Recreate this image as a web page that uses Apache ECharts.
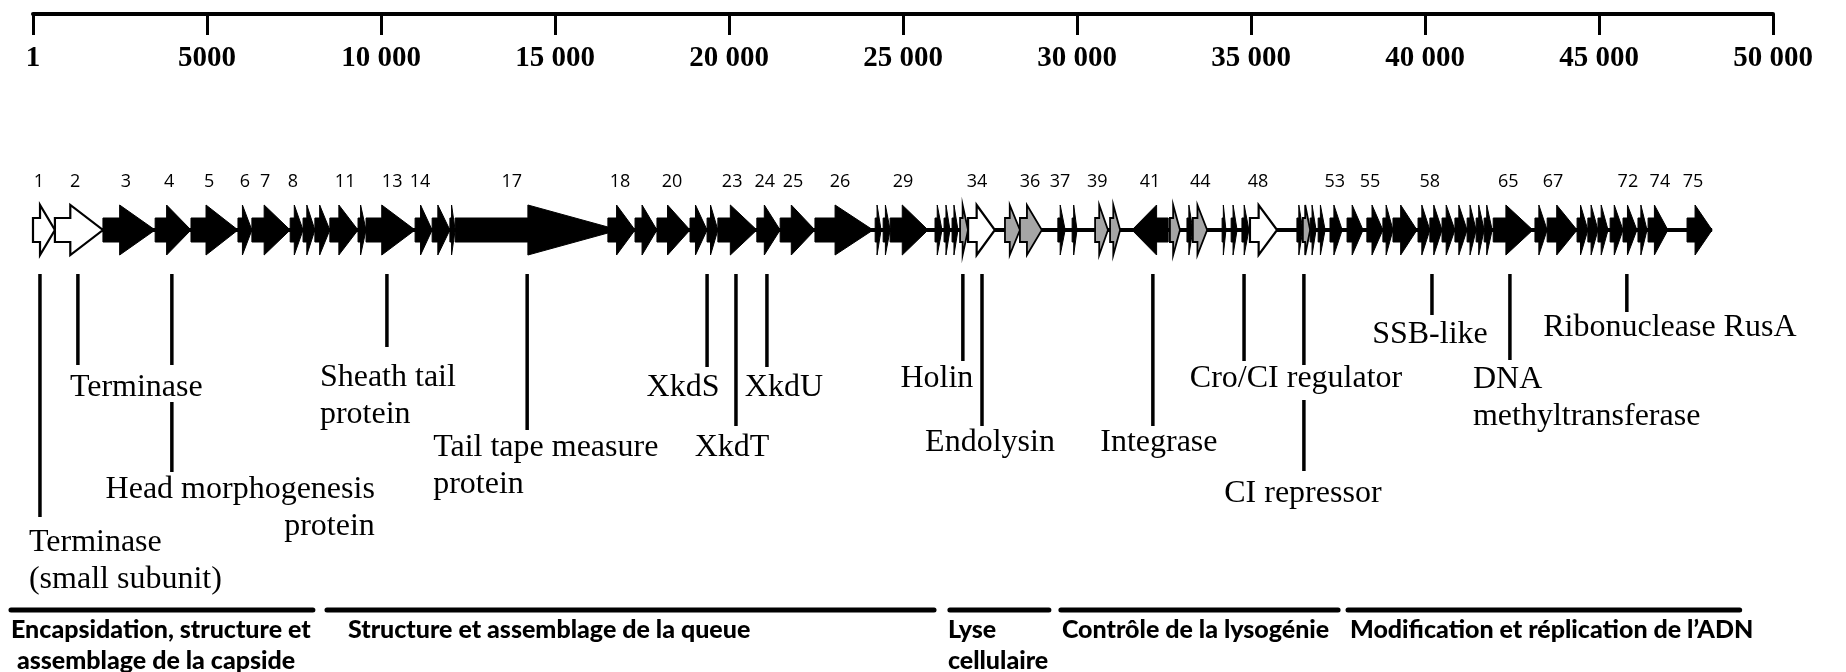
<!DOCTYPE html>
<html>
<head>
<meta charset="utf-8">
<script src="https://cdn.jsdelivr.net/npm/echarts@6/dist/echarts.min.js"></script>
<style>
html,body{margin:0;padding:0;background:#fff;}
#chart{width:1846px;height:672px;}
</style>
</head>
<body>
<div id="chart"></div>
<script>
// ---------------- DATA ----------------
const rulerLabels = ['1','5000','10 000','15 000','20 000','25 000','30 000','35 000','40 000','45 000','50 000'];

const genomeSpan = [0, 48250];

const geneStart = [0,630,2010,3510,4540,5890,6290,7390,7760,8100,
  8530,9340,9570,10980,11470,11980,12130,16520,17300,17930,
  18880,19370,19680,20800,21470,22470,24200,24430,24630,25920,
  26180,26410,26640,26870,27930,28360,29450,29860,30520,30950,
  31580,32670,33160,33330,34170,34430,34740,34970,36320,36490,
  36700,36930,37270,37760,38330,38790,39080,39800,40140,40490,
  40860,41210,41470,41700,41960,43160,43510,44370,44680,44970,
  45320,45690,46120,46410,47530];
const geneEnd = [630,2010,3510,4540,5890,6290,7390,7760,8100,8530,
  9340,9570,10980,11470,11980,12130,16520,17300,17930,18880,
  19370,19680,20800,21470,22470,24140,24370,24630,25720,26120,
  26350,26580,26870,27640,28360,28990,29660,30000,30890,31240,
  32620,32960,33330,33740,34280,34600,34940,35750,36490,36700,
  36870,37130,37620,38220,38790,39080,39770,40140,40490,40860,
  41210,41470,41700,41930,43100,43510,44370,44680,44970,45260,
  45690,46090,46380,46980,48250];
const reverseGenes = [41];
const openGenes = [1, 2, 34, 48];
const shadedGenes = [33, 35, 36, 39, 40, 42, 44, 50];

const geneLabelText = ['1','2','3','4','5','6','7','8','11','13','14','17','18','20','23','24','25','26','29',
  '34','36','37','39','41','44','48','53','55','58','65','67','72','74','75'];
const geneLabelPos = [170,1210,2670,3910,5060,6090,6670,7470,8970,10320,11120,13760,16870,18360,20090,21030,21840,23190,25000,
  27130,28650,29510,30580,32100,33540,35200,37410,38420,40140,42390,43680,45830,46750,47700];

const annotText = ['Terminase\n(small subunit)','Terminase','Head morphogenesis\nprotein','Sheath tail\nprotein',
  'Tail tape measure\nprotein','XkdS','XkdT','XkdU','Holin','Endolysin','Integrase','Cro/CI regulator',
  'CI repressor','SSB-like','DNA\nmethyltransferase','Ribonuclease RusA'];
const annotPos = [200,1290,3990,10170,14200,19370,20200,21090,26720,27270,32180,34800,36520,40200,42440,45800];

const catNames = ['Encapsidation, structure et\n assemblage de la capside','Structure et assemblage de la queue',
  'Lyse\ncellulaire','Contrôle de la lysogénie','Modification et réplication de l\u2019ADN'];
const catStart = [-690, 8390, 26290, 29480, 37730];
const catEnd = [8100, 25950, 29250, 37560, 49100];

// ---------------- LAYOUT (pixels, styling) ----------------
const ROW_Y = 230, BODY_H = 12, HEAD_H = 25, BACKBONE_W = 4;
const longHead = {17: 80};
const annotLayout = [
  {segs:[[274,517]], dx:-11, align:'left', ty:543},
  {segs:[[274,365]], dx:-8, align:'left', ty:388},
  {segs:[[274,365],[402,472]], dx:203, align:'right', ty:490},
  {segs:[[274,347]], dx:-67, align:'left', ty:378},
  {segs:[[274,430]], dx:-94, align:'left', ty:448},
  {segs:[[274,367]], dx:-24, align:'center', ty:388},
  {segs:[[274,426]], dx:-4, align:'center', ty:448},
  {segs:[[274,367]], dx:17, align:'center', ty:388},
  {segs:[[274,361]], dx:-26, align:'center', ty:379},
  {segs:[[274,426]], dx:8, align:'center', ty:443},
  {segs:[[274,426]], dx:6, align:'center', ty:443},
  {segs:[[274,361]], dx:52, align:'center', ty:379},
  {segs:[[274,365],[400,471]], dx:-1, align:'center', ty:494},
  {segs:[[274,315]], dx:-2, align:'center', ty:335},
  {segs:[[274,360]], dx:-37, align:'left', ty:380},
  {segs:[[274,312]], dx:43, align:'center', ty:328}
];
const ANNOT_FONT = 'normal 32px "Liberation Serif"';
const ANNOT_LH = 37;
const catTextDx = [2, 23, 0, 3, 4];

// ---------------- CHART ----------------
const chart = echarts.init(document.getElementById('chart'), null, {renderer:'canvas'});

const geneData = geneStart.map((s, i) => [s, geneEnd[i], reverseGenes.includes(i + 1) ? -1 : 1, i + 1]);

function renderGene(params, api) {
  const s = api.value(0), e = api.value(1), dir = api.value(2), id = api.value(3);
  const x0 = api.coord([s, 0])[0], x1 = api.coord([e, 0])[0];
  const L = Math.abs(x1 - x0);
  const head = longHead[id] || Math.min(L * 0.68, 38);
  const tip = longHead[id] ? 3 : 0;
  const y = ROW_Y, bh = BODY_H, hh = HEAD_H;
  let pts;
  if (dir > 0) {
    const xh = x1 - head;
    pts = [[x0, y - bh], [xh, y - bh], [xh, y - hh], [x1, y - tip], [x1, y + tip], [xh, y + hh], [xh, y + bh], [x0, y + bh]];
  } else {
    const xh = x0 + head;
    pts = [[x1, y - bh], [xh, y - bh], [xh, y - hh], [x0, y - tip], [x0, y + tip], [xh, y + hh], [xh, y + bh], [x1, y + bh]];
  }
  let fill = '#000', lw = 1;
  if (openGenes.includes(id)) { fill = '#fff'; lw = 2.2; }
  else if (shadedGenes.includes(id)) { fill = '#a5a5a5'; lw = 1.8; }
  return {type:'polygon', shape:{points:pts}, style:{fill:fill, stroke:'#000', lineWidth:lw, lineJoin:'miter'}};
}

function renderBackbone(params, api) {
  const x0 = api.coord([api.value(0), 0])[0], x1 = api.coord([api.value(1), 0])[0];
  return {type:'line', shape:{x1:x0, y1:ROW_Y, x2:x1, y2:ROW_Y}, style:{stroke:'#000', lineWidth:BACKBONE_W}};
}

function renderNumber(params, api) {
  const x = api.coord([api.value(0), 0])[0];
  return {type:'text', style:{text:geneLabelText[params.dataIndex], x:x, y:182,
    textAlign:'center', textVerticalAlign:'middle', font:'18px "Open Sans"', fill:'#000'}};
}

function renderAnnot(params, api) {
  const i = params.dataIndex;
  const lay = annotLayout[i];
  const x = api.coord([api.value(0), 0])[0];
  const children = lay.segs.map(sg => ({type:'line', shape:{x1:x, y1:sg[0], x2:x, y2:sg[1]},
    style:{stroke:'#000', lineWidth:3.5}}));
  children.push({type:'text', style:{text:annotText[i], x:x + lay.dx, y:lay.ty - ANNOT_LH / 2,
    textAlign:lay.align, textVerticalAlign:'top', font:ANNOT_FONT, lineHeight:ANNOT_LH, fill:'#000'}});
  return {type:'group', children:children};
}

function renderCat(params, api) {
  const i = params.dataIndex;
  const x0 = api.coord([api.value(0), 0])[0], x1 = api.coord([api.value(1), 0])[0];
  return {type:'group', children:[
    {type:'line', shape:{x1:x0 + 2, y1:610, x2:x1 - 2, y2:610}, style:{stroke:'#000', lineWidth:5, lineCap:'round'}},
    {type:'text', style:{text:catNames[i], x:x0 + catTextDx[i], y:614, textAlign:'left', textVerticalAlign:'top',
      font:'900 25px Lato', lineHeight:31, fill:'#000'}}
  ]};
}

const option = {
  animation: false,
  backgroundColor: '#fff',
  grid: {left:33, right:73, top:14, bottom:10, containLabel:false},
  xAxis: {
    type:'value', min:0, max:50000, interval:5000, position:'top',
    splitLine:{show:false},
    axisLine:{show:true, onZero:false, lineStyle:{color:'#000', width:4}},
    axisTick:{show:true, inside:true, length:21, lineStyle:{color:'#000', width:3}},
    axisLabel:{show:true, inside:true, margin:30, color:'#000', fontFamily:'Liberation Serif',
      fontWeight:'bold', fontSize:29, showMinLabel:true, showMaxLabel:true,
      formatter: v => rulerLabels[Math.round(v / 5000)]}
  },
  yAxis: {type:'value', min:0, max:1, show:false},
  series: [
    {type:'custom', name:'backbone', clip:false, renderItem:renderBackbone, data:[genomeSpan], z:1},
    {type:'custom', name:'genes', clip:false, renderItem:renderGene, data:geneData, z:2},
    {type:'custom', name:'numbers', clip:false, renderItem:renderNumber, data:geneLabelPos.map(v => [v]), z:3},
    {type:'custom', name:'annotations', clip:false, renderItem:renderAnnot, data:annotPos.map(v => [v]), z:3},
    {type:'custom', name:'categories', clip:false, renderItem:renderCat, data:catStart.map((s, i) => [s, catEnd[i]]), z:3}
  ]
};
chart.setOption(option);
</script>
</body>
</html>
